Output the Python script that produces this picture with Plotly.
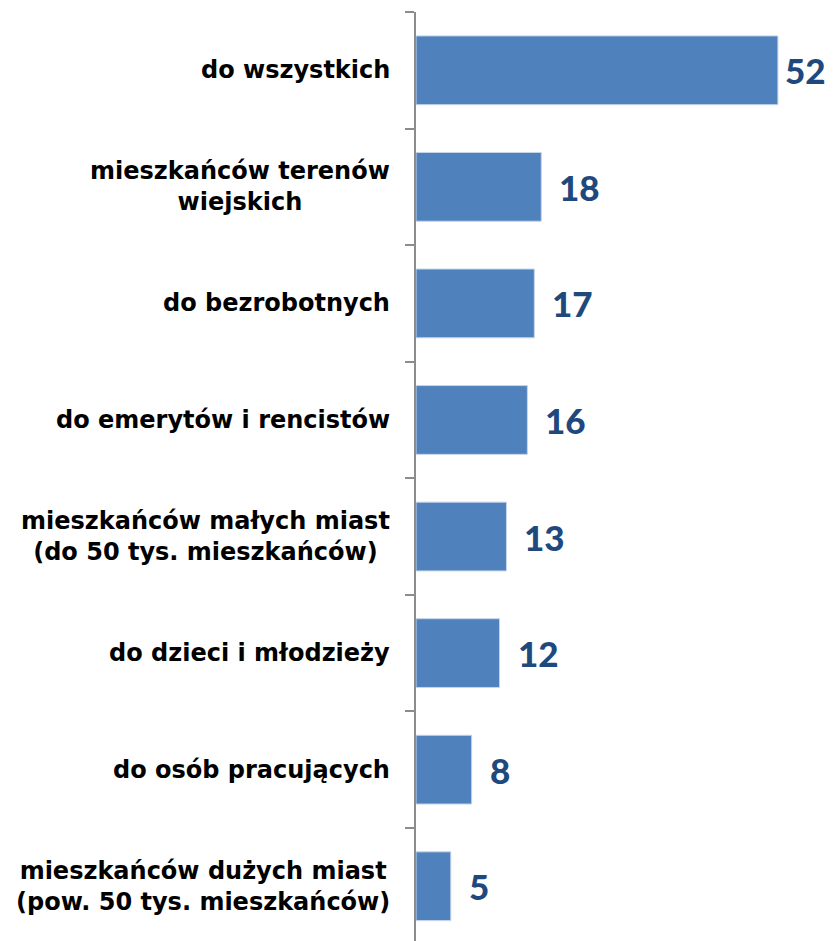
import plotly.graph_objects as go

categories = [
    "do wszystkich",
    "mieszkańców terenów<br>wiejskich",
    "do bezrobotnych",
    "do emerytów i rencistów",
    "mieszkańców małych miast<br>(do 50 tys. mieszkańców)",
    "do dzieci i młodzieży",
    "do osób pracujących",
    "mieszkańców dużych miast<br>(pow. 50 tys. mieszkańców)",
]
values = [52, 18, 17, 16, 13, 12, 8, 5]

fig = go.Figure()
fig.add_trace(go.Bar(
    x=values, y=categories, orientation="h",
    marker=dict(color="#4F81BD", line=dict(color="#C6D5EA", width=1)),
    cliponaxis=False, width=0.59, hoverinfo="x+y",
))

# category labels (centred multi-line, right-aligned block)
for c in categories:
    fig.add_annotation(
        x=0, xref="paper", y=c, yref="y", text=c,
        xanchor="right", yanchor="middle", align="center", xshift=-24,
        showarrow=False,
        font=dict(family="DejaVu Sans", size=24, color="#000000", weight="bold"),
    )

# value labels
vmax = max(values)
for c, v in zip(categories, values):
    fig.add_annotation(
        x=v, xref="x", y=c, yref="y", text=str(v),
        xanchor="left", yanchor="middle", xshift=(5 if v == vmax else 16),
        showarrow=False,
        font=dict(family="Lato", size=35, color="#1F497D", weight=900),
    )

fig.update_layout(
    width=825, height=933,
    margin=dict(l=408, r=0, t=4, b=0),
    plot_bgcolor="white", paper_bgcolor="white",
    showlegend=False,
)
fig.update_xaxes(range=[0, 417 / 6.96], visible=False)
fig.update_yaxes(
    type="category", categoryorder="array", categoryarray=categories,
    range=[7.47, -0.5], showticklabels=False,
    showline=True, linecolor="#8C8C8C", linewidth=1.5,
    ticks="outside", tickson="boundaries", ticklen=9, tickcolor="#8C8C8C", tickwidth=1.5,
    showgrid=False, zeroline=False,
)
fig.write_html("out.html")
